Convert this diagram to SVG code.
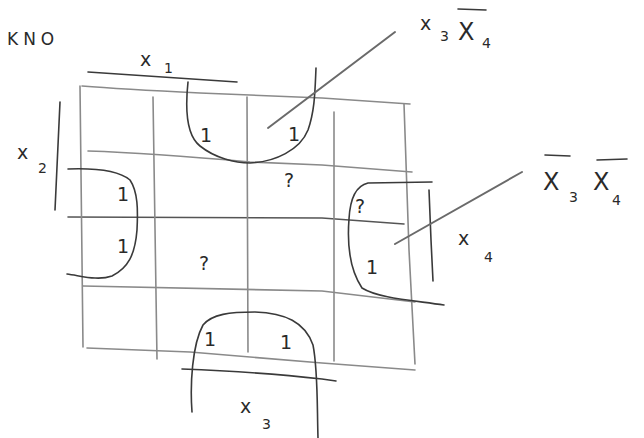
<svg xmlns="http://www.w3.org/2000/svg" width="644" height="438" viewBox="0 0 644 438">
<style>
.grid{fill:none;stroke:#8a8a8a;stroke-width:1.6;stroke-linecap:round;stroke-linejoin:round}
.ink{fill:none;stroke:#3a3a3a;stroke-width:1.6;stroke-linecap:round;stroke-linejoin:round}
.ptr{fill:none;stroke:#6a6a6a;stroke-width:2;stroke-linecap:round}
.t{font-family:"DejaVu Sans","Liberation Sans",sans-serif;fill:#2a2a2a;font-weight:normal}
.lab{font-size:19px}
.sub{font-size:14px}
.cell{font-size:19px}
</style>
<rect width="644" height="438" fill="#ffffff"/>
<g id="grid">
<path class="grid" d="M82,86 Q120,89 200,93 L322,98 L410,104"/>
<path class="grid" d="M88,151 Q150,153 250,162 L322,165 L412,172"/>
<path class="grid" d="M68,217 L322,218 L404,224" style="stroke:#555"/>
<path class="grid" d="M83,286 L322,291 L415,302"/>
<path class="grid" d="M87,348 L190,352 L322,363 L415,370"/>
<path class="grid" d="M80,86 L83,347"/>
<path class="grid" d="M153,97 L157,359"/>
<path class="grid" d="M247,97 L248,352"/>
<path class="grid" d="M334,112 L334,361"/>
<path class="grid" d="M404,104 L409,250 L415,364"/>
</g>
<g id="loops">
<path class="ink" d="M188,82 C185,110 186,135 200,146 C215,158 235,163 250,163 C275,162 300,150 308,130 C315,110 315,90 316,68"/>
<path class="ink" d="M68,169 C95,168 118,170 130,180 C138,192 138,210 137,230 C135,255 128,268 112,276 C98,281 82,276 67,274"/>
<path class="ink" d="M432,182 L368,183 C355,186 350,200 349,219 C347,245 350,270 362,288 C378,298 410,300 444,305"/>
<path class="ink" d="M192,412 C190,385 192,345 203,325 C212,314 230,312 255,312 C285,313 305,322 313,345 C318,370 317,405 318,438"/>
</g>
<g id="bars">
<path class="ink" d="M88,72 Q160,77 237,82"/>
<path class="ink" d="M60,102 L55,210"/>
<path class="ink" d="M182,369 Q260,372 322,379 L336,381"/>
<path class="ink" d="M429,190 L431,240 L433,281"/>
</g>
<g id="connectors">
<path class="ptr" d="M268,128 L395,32"/>
<path class="ptr" d="M395,244 L522,172"/>
</g>
<g id="labels">
<text class="t" x="7" y="45" font-size="17" letter-spacing="5">KNO</text>
<text class="t lab" x="140" y="66">x</text><text class="t sub" x="164" y="73">1</text>
<text class="t lab" x="17" y="159">x</text><text class="t sub" x="38" y="173">2</text>
<text class="t lab" x="420" y="30">x</text><text class="t sub" x="440" y="41">3</text>
<text class="t" x="458" y="40" font-size="24">X</text><text class="t sub" x="482" y="48">4</text>
<path class="ink" d="M458,9 L486,10"/>
<text class="t" x="543" y="190" font-size="24">X</text><text class="t sub" x="569" y="202">3</text>
<path class="ink" d="M545,155 L570,156"/>
<text class="t" x="593" y="190" font-size="24">X</text><text class="t sub" x="612" y="205">4</text>
<path class="ink" d="M597,160 L627,159"/>
<text class="t lab" x="458" y="245">x</text><text class="t sub" x="484" y="262">4</text>
<text class="t lab" x="240" y="413">x</text><text class="t sub" x="262" y="429">3</text>
</g>
<g id="cells">
<text class="t cell" x="200" y="142">1</text>
<text class="t cell" x="288" y="141">1</text>
<text class="t cell" x="117" y="201">1</text>
<text class="t cell" x="117" y="253">1</text>
<text class="t cell" x="204" y="346">1</text>
<text class="t cell" x="280" y="349">1</text>
<text class="t cell" x="366" y="274">1</text>
<text class="t cell" x="284" y="187">?</text>
<text class="t cell" x="199" y="270">?</text>
<text class="t cell" x="355" y="213">?</text>
</g>
</svg>
